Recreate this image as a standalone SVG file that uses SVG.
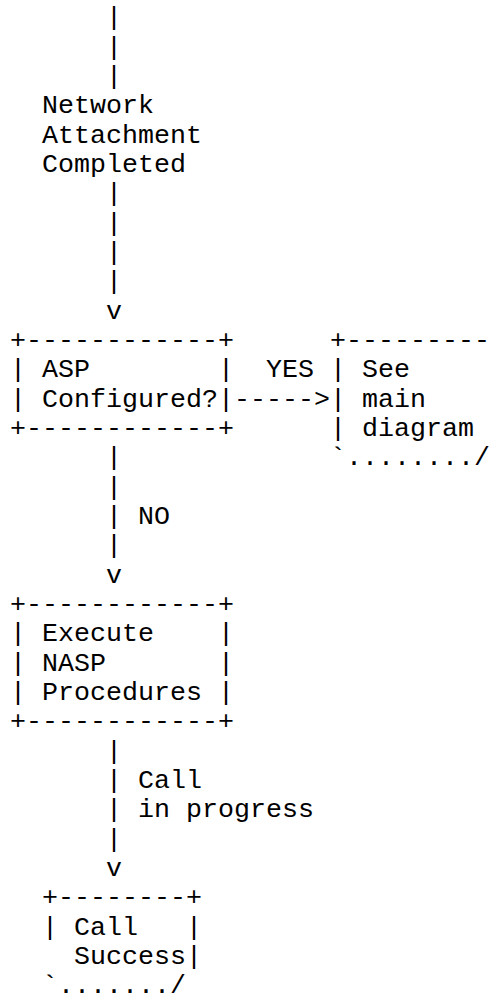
<svg xmlns="http://www.w3.org/2000/svg" width="496" height="1000" viewBox="0 0 496 1000">
<style>
text{font-family:"Liberation Mono","Courier New",monospace;font-size:26.67px;fill:#000;white-space:pre}
</style>
<rect width="496" height="1000" fill="#fff"/>
<g transform="translate(0,-3.5)">
<g id="connectors">
<text x="106" y="28.7">|</text>
<text x="106" y="58">|</text>
<text x="106" y="87.4">|</text>
<text x="106" y="204.7">|</text>
<text x="106" y="234">|</text>
<text x="106" y="263.4">|</text>
<text x="106" y="292.7">|</text>
<text x="106" y="322">v</text>
<text x="266" y="380.7">YES</text>
<text x="234" y="410">-----&gt;</text>
<text x="106" y="468.7">|</text>
<text x="106" y="498">|</text>
<text x="106" y="527.4">| NO</text>
<text x="106" y="556.7">|</text>
<text x="106" y="586">v</text>
<text x="106" y="762">|</text>
<text x="106" y="791.4">| Call</text>
<text x="106" y="820.7">| in progress</text>
<text x="106" y="850">|</text>
<text x="106" y="879.4">v</text>
</g>
<g id="network-attachment">
<text x="42" y="116.7">Network</text>
<text x="42" y="146">Attachment</text>
<text x="42" y="175.4">Completed</text>
</g>
<g id="asp-configured">
<text x="10" y="351.4">+------------+</text>
<text x="10" y="380.7" xml:space="preserve">| ASP        |</text>
<text x="10" y="410">| Configured?|</text>
<text x="10" y="439.4">+------------+</text>
</g>
<g id="see-main-diagram">
<text x="330" y="351.4">+---------</text>
<text x="330" y="380.7">| See</text>
<text x="330" y="410">| main</text>
<text x="330" y="439.4">| diagram</text>
<text x="330" y="468.7">`......../</text>
</g>
<g id="execute-nasp">
<text x="10" y="615.4">+------------+</text>
<text x="10" y="644.7" xml:space="preserve">| Execute    |</text>
<text x="10" y="674" xml:space="preserve">| NASP       |</text>
<text x="10" y="703.4">| Procedures |</text>
<text x="10" y="732.7">+------------+</text>
</g>
<g id="call-success">
<text x="42" y="908.7">+--------+</text>
<text x="42" y="938" xml:space="preserve">| Call   |</text>
<text x="74" y="967.4">Success|</text>
<text x="42" y="996.7">`......./</text>
</g>
</g>
</svg>
